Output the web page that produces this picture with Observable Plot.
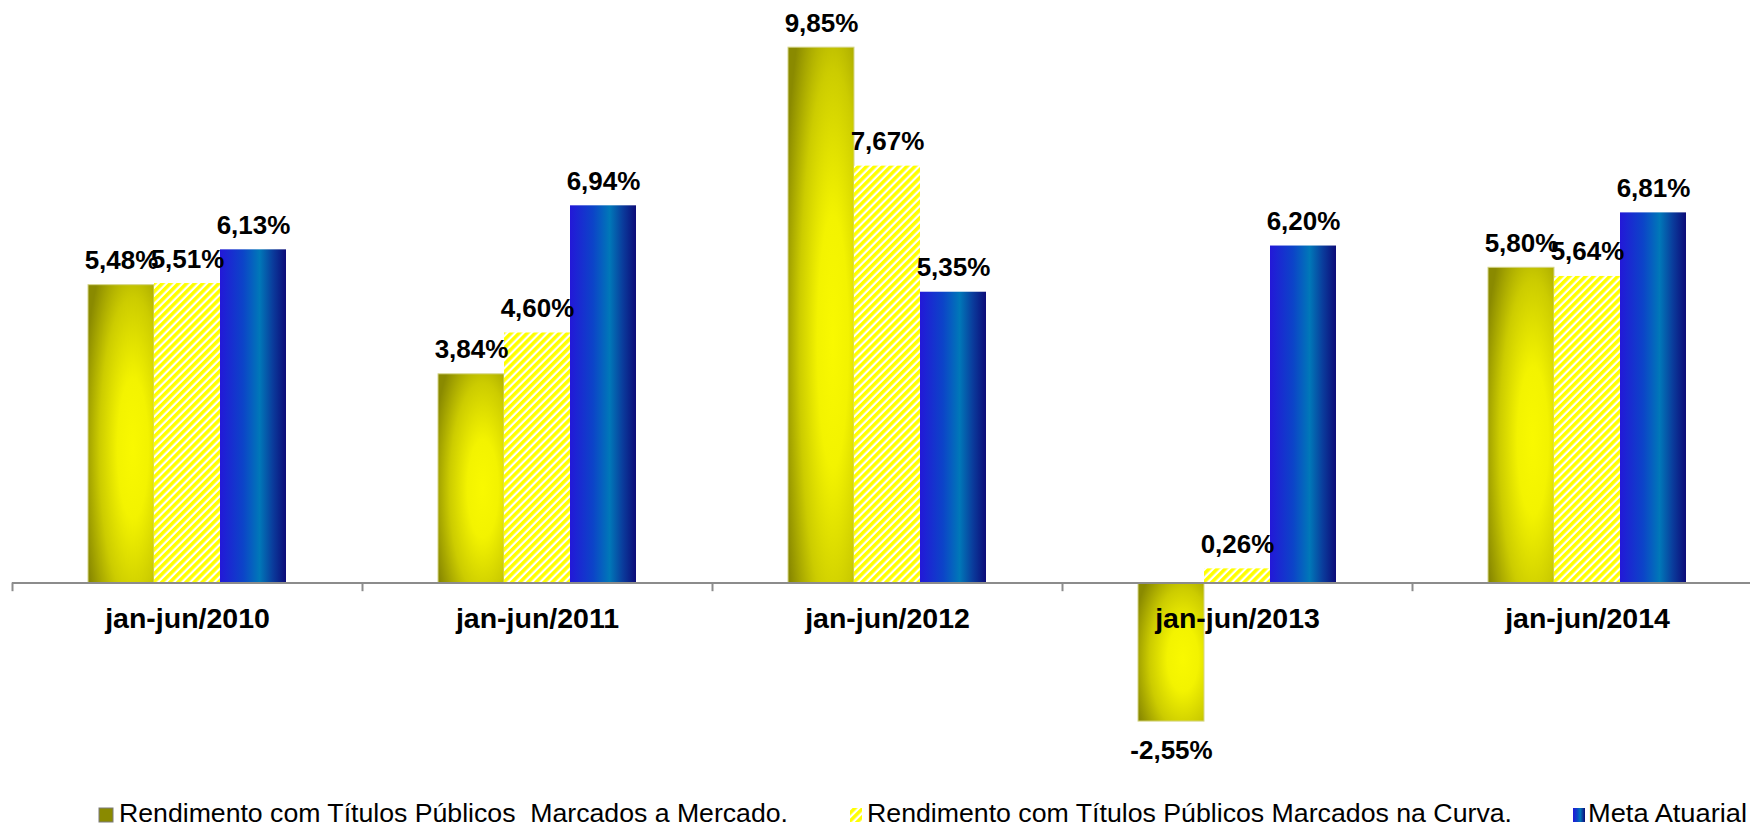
<!DOCTYPE html>
<html><head><meta charset="utf-8">
<script src="https://cdn.jsdelivr.net/npm/d3@7"></script>
<script src="https://cdn.jsdelivr.net/npm/@observablehq/plot@0.6"></script>
<style>
html,body{margin:0;padding:0;background:#fff;overflow:hidden;}
#wrap{width:1750px;height:826px;overflow:hidden;position:relative;}
#chart{width:1750px;height:790px;overflow:hidden;}
#chart svg{display:block;max-width:none !important;}
#legend{display:block;}
</style></head><body>
<svg id="defs" width="0" height="0" style="position:absolute">
  <defs>
    <radialGradient id="gradMercado" cx="0.68" cy="0.55" r="0.78">
      <stop offset="0" stop-color="#f9f900"/>
      <stop offset="0.3" stop-color="#f3f300"/>
      <stop offset="0.65" stop-color="#cccc00"/>
      <stop offset="1" stop-color="#8a8a00"/>
    </radialGradient>
    <linearGradient id="gradMeta" x1="0" x2="1" y1="0" y2="0">
      <stop offset="0" stop-color="#2318d8"/>
      <stop offset="0.35" stop-color="#0c44c8"/>
      <stop offset="0.6" stop-color="#0078b8"/>
      <stop offset="0.8" stop-color="#0a3c9c"/>
      <stop offset="1" stop-color="#0c0c78"/>
    </linearGradient>
    <pattern id="hatchCurva" patternUnits="userSpaceOnUse" width="5.7" height="5.7" patternTransform="rotate(45)">
      <rect x="0" y="0" width="5.7" height="5.7" fill="#ffffff"/>
      <rect x="0" y="0" width="3.5" height="5.7" fill="#ffff00"/>
    </pattern>
  </defs>
</svg>
<div id="wrap"><div id="chart"></div><svg id="legend" width="1750" height="36"></svg></div>
<script>
const categories = ["jan-jun/2010", "jan-jun/2011", "jan-jun/2012", "jan-jun/2013", "jan-jun/2014"];
const seriesNames = [
  "Rendimento com Títulos Públicos  Marcados a Mercado.",
  "Rendimento com Títulos Públicos Marcados na Curva.",
  "Meta Atuarial"
];
const mercado = [5.48, 3.84, 9.85, -2.55, 5.80];
const curva   = [5.51, 4.60, 7.67, 0.26, 5.64];
const meta    = [6.13, 6.94, 5.35, 6.20, 6.81];

const seriesValues = [mercado, curva, meta];
const fills = ["url(#gradMercado)", "url(#hatchCurva)", "url(#gradMeta)"];
const legendFills = ["#8a8a00", "url(#hatchCurva)", "url(#gradMeta)"];

const table = categories.flatMap((c, i) =>
  seriesNames.map((s, j) => ({category: c, series: s, value: seriesValues[j][i]})));

const fmt = v => v.toFixed(2).replace(".", ",") + "%";
const FONT = "'Liberation Sans', Arial, Helvetica, sans-serif";
const groupWidth = 350;
const H = 790, zeroY = 582.5, pxPerUnit = 54.35;

const plot = Plot.plot({
  width: 12 + groupWidth * categories.length,
  height: H,
  marginLeft: 12, marginRight: 0, marginTop: 0, marginBottom: 0,
  style: {fontFamily: FONT, background: "transparent", maxWidth: "none"},
  fx: {domain: categories, padding: 0, axis: null, label: null},
  x: {domain: seriesNames, paddingInner: 0, paddingOuter: 1.125, axis: null, label: null},
  y: {domain: [-(H - zeroY) / pxPerUnit, zeroY / pxPerUnit], range: [H, 0], axis: null},
  marks: [
    ...seriesNames.map((s, j) => Plot.barY(table, {
      filter: d => d.series === s,
      fx: "category", x: "series", y: "value",
      fill: fills[j],
      stroke: j === 0 ? "#d6d68a" : "none", strokeWidth: 1
    })),
    Plot.ruleY([0], {stroke: "#8c8c8c", strokeWidth: 2}),
    Plot.ruleX(categories, {fx: d => d, x: null, y1: 0, y2: -0.16, stroke: "#8c8c8c", strokeWidth: 2, dx: -groupWidth / 2}),
    Plot.text(categories, {fx: d => d, y: () => 0, text: d => d, fontSize: 28.5, fontWeight: "bold", fill: "#000", dy: 35.4}),
    Plot.text(table, {filter: d => d.value >= 0, fx: "category", x: "series", y: "value", text: d => fmt(d.value),
      fontSize: 26, fontWeight: "bold", fill: "#000", dy: -24.3}),
    Plot.text(table, {filter: d => d.value < 0, fx: "category", x: "series", y: "value", text: d => fmt(d.value),
      fontSize: 26, fontWeight: "bold", fill: "#000", dy: 28.7})
  ]
});
document.getElementById("chart").appendChild(plot);

// legend
const legendMarkerX = [99, 850, 1573];
const legendMarkerW = [14, 12, 12];
const legendTextX = [119, 867, 1588];
const legendTextLen = [669, 645, 159];
const lg = d3.select("#legend");
seriesNames.forEach((s, j) => {
  lg.append("rect")
    .attr("x", legendMarkerX[j]).attr("y", 18)
    .attr("width", legendMarkerW[j]).attr("height", 14)
    .attr("fill", legendFills[j])
    .attr("stroke", j === 0 ? "#7a7a7a" : "none").attr("stroke-width", 1);
  lg.append("text")
    .attr("x", legendTextX[j]).attr("y", 31.7)
    .attr("font-family", FONT).attr("font-size", 25)
    .attr("textLength", legendTextLen[j]).attr("lengthAdjust", "spacingAndGlyphs")
    .style("white-space", "pre")
    .attr("fill", "#000")
    .text(s);
});
</script>
</body></html>
